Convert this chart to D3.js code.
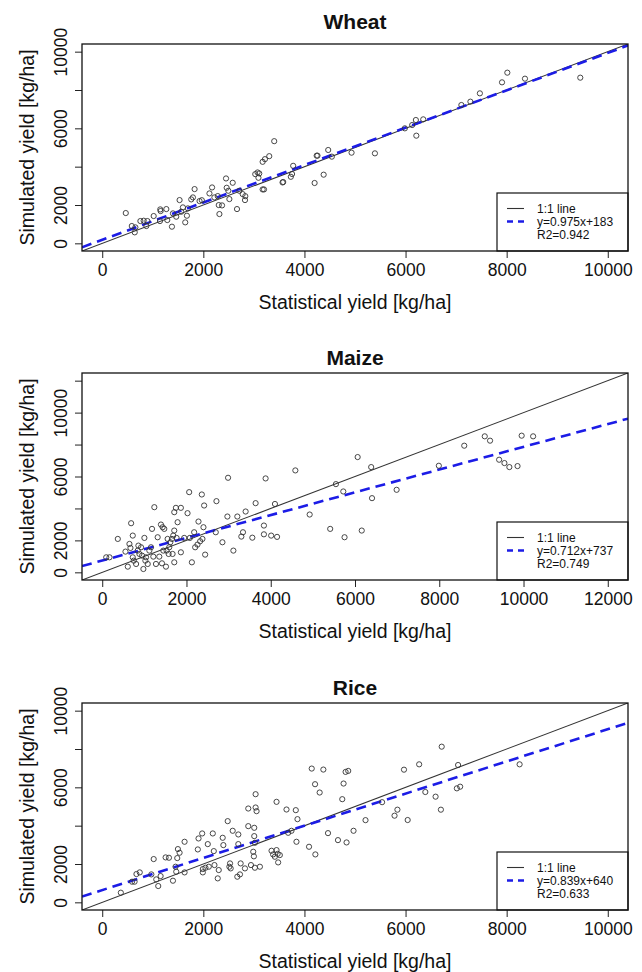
<!DOCTYPE html>
<html>
<head>
<meta charset="utf-8">
<script src="https://cdn.jsdelivr.net/npm/d3@7"></script>
<style>
  body { margin: 0; background: #fff; }
  svg { display: block; }
  text { font-family: "Liberation Sans", Arial, sans-serif; fill: #111; }
</style>
</head>
<body>
<svg id="chart" width="642" height="972"></svg>
<script>
// crops, one panel each
const cropNames = ["Wheat", "Maize", "Rice"];

// [statistical yield, simulated yield] in kg/ha
const wheatPoints = [
  [466,1580],[585,903],[643,573],[656,833],[755,1163],[820,1180],[873,903],[893,1163],
  [1018,1424],[1148,1771],[1155,1684],[1142,1163],[1268,1788],[1287,1215],[1379,868],
  [1399,1562],[1464,1389],[1530,2257],[1563,1649],[1596,1875],[1642,1094],[1675,1441],
  [1695,1823],[1761,2292],[1794,2396],[1827,2830],[1925,2205],[1970,2250],[2121,2604],
  [2173,2916],[2219,2396],[2285,2465],[2305,1996],[2318,1528],[2370,1979],[2449,3385],
  [2462,2899],[2495,2743],[2515,2309],[2581,3160],[2666,1788],[2712,2743],[2778,2569],
  [2824,2257],[2830,2460],[3027,3611],[3073,3698],[3106,3646],[3090,3420],[3173,2812],
  [3200,2812],[3173,4253],[3219,4392],[3304,4548],[3402,5330],[3567,3177],[3580,3200],
  [3731,3472],[3777,4045],[3755,3617],[4201,3148],[4242,4574],[4258,4574],[4380,3582],
  [4470,4870],[4542,4522],[4932,4730],[5394,4695],[5986,6000],[6131,6173],[6204,6434],
  [6350,6469],[6213,5617],[7104,7217],[7283,7391],[7470,7826],[7908,8400],[8013,8904],
  [8362,8591],[9456,8643]
];
const maizePoints = [
  [95,941],[173,941],[370,2092],[552,1297],[607,356],[646,1778],[670,1527],[686,3075],
  [725,2301],[725,941],[749,732],[804,523],[843,1360],[859,1673],[883,1151],[922,1569],
  [946,1046],[977,209],[1001,2155],[1024,732],[1040,941],[1080,523],[1119,1360],[1158,1569],
  [1182,2720],[1213,983],[1237,4079],[1276,523],[1316,2197],[1355,983],[1394,2992],[1418,565],
  [1434,2824],[1450,1360],[1473,2720],[1513,356],[1528,1360],[1552,2092],[1576,1151],
  [1591,1569],[1615,1883],[1655,2092],[1670,1151],[1686,2301],[1710,3766],[1710,2615],
  [1710,628],[1749,4038],[1765,2155],[1789,3138],[1867,4038],[1867,1255],[1946,2155],
  [2025,3703],[2064,5021],[2080,2155],[2128,628],[2182,2510],[2206,1569],[2261,1736],
  [2285,3180],[2324,1946],[2364,4874],[2379,2092],[2403,2824],[2419,4184],[2443,1109],
  [2695,2510],[2711,4456],[2853,1883],[2971,3494],[2987,5920],[3113,1360],[3207,3494],
  [3302,2238],[3341,2510],[3404,3808],[3563,2170],[3641,4331],[3838,2380],[3838,2929],
  [3878,5880],[4010,2300],[4100,4280],[4150,2220],[4584,6381],[4924,3619],[5411,2720],
  [5547,5523],[5722,5063],[5752,2197],[6063,7217],[6160,2615],[6384,6590],[6404,4644],
  [6988,5167],[7990,6673],[8593,7929],[9080,8515],[9206,8243],[9421,7050],[9547,6841],
  [9664,6590],[9858,6652],[9956,8556],[10228,8515]
];
const ricePoints = [
  [368,503],[590,1076],[640,1076],[677,1476],[742,1562],[972,1458],[1018,2257],[1069,1198],
  [1108,851],[1155,1371],[1254,2344],[1320,2326],[1399,1128],[1450,1858],[1464,1597],
  [1497,2778],[1530,2587],[1484,2309],[1629,3160],[1629,1562],[1891,2760],[1905,3333],
  [1977,3594],[1990,1736],[1990,1562],[2042,1805],[2088,3038],[2108,1858],[2187,3594],
  [2207,2673],[2220,1944],[2285,1250],[2305,1684],[2383,3368],[2396,2986],[2482,4236],
  [2515,1858],[2581,3733],[2692,3541],[2692,3038],[2528,2031],[2541,1771],[2672,1337],
  [2725,1458],[2738,2031],[2823,1771],[2889,4895],[2889,3975],[2942,1944],[2987,2639],
  [3000,2400],[3007,3889],[3007,3455],[3020,3107],[3034,5642],[3034,4948],[3053,4757],
  [3020,1805],[3119,1858],[3349,2691],[3380,2500],[3415,2378],[3448,2725],[3470,2530],
  [3513,2465],[3480,2083],[3448,5243],[3645,4843],[3678,3628],[3744,3733],[3829,4809],
  [3862,4340],[3842,3160],[4091,2899],[4144,6979],[4210,6163],[4216,2500],[4301,5729],
  [4374,6927],[4466,3611],[4663,3246],[4748,5382],[4774,6198],[4814,6805],[4866,6857],
  [4833,3125],[4971,3733],[5208,4288],[5536,5225],[5782,4521],[5839,4834],[5969,6921],
  [6042,4295],[6269,7200],[6391,5756],[6594,5513],[6699,4834],[6715,8121],[7015,5947],
  [7039,7165],[7080,6034],[8256,7200]
];

// regression fits shown in the legends
const fitSlopes = [0.975, 0.712, 0.839];
const fitIntercepts = [183, 737, 640];
const fitR2 = ["0.942", "0.749", "0.633"];

// axis limits and ticks
const axisLimits = [[0, 10000], [0, 12000], [0, 10000]];
const xTicks = [
  [0, 2000, 4000, 6000, 8000, 10000],
  [0, 2000, 4000, 6000, 8000, 10000, 12000],
  [0, 2000, 4000, 6000, 8000, 10000]
];
const yTicks = xTicks;
const yTickLabels = [
  [0, 2000, 6000, 10000],
  [0, 2000, 6000, 10000],
  [0, 2000, 6000, 10000]
];

const xTitle = "Statistical yield [kg/ha]";
const yTitle = "Simulated yield [kg/ha]";

// layout
const plotLeft = 82, plotRight = 628, plotH = 207;
const panelTops = [44, 373, 703];
const titleGaps = [23, 16, 16];

const svg = d3.select("#chart");
const allPoints = [wheatPoints, maizePoints, ricePoints];

// R style: limits widened by 4% on each side
const widen = ([lo, hi]) => [lo - 0.04 * (hi - lo), hi + 0.04 * (hi - lo)];

cropNames.forEach((name, i) => {
  const top = panelTops[i];
  const bottom = top + plotH;
  const dom = widen(axisLimits[i]);

  const x = d3.scaleLinear().domain(dom).range([plotLeft, plotRight]);
  const y = d3.scaleLinear().domain(dom).range([bottom, top]);

  const g = svg.append("g");

  // clip for the lines
  const clipId = "clip" + i;
  svg.append("clipPath").attr("id", clipId)
    .append("rect")
    .attr("x", plotLeft).attr("y", top)
    .attr("width", plotRight - plotLeft).attr("height", plotH);

  // title
  g.append("text")
    .attr("x", (plotLeft + plotRight) / 2)
    .attr("y", top - titleGaps[i])
    .attr("dy", "0.36em")
    .attr("text-anchor", "middle")
    .style("font-size", "21px")
    .style("font-weight", "bold")
    .text(name);

  // x axis
  const xAxis = d3.axisBottom(x).tickValues(xTicks[i]).tickSize(7).tickPadding(6)
    .tickFormat(d3.format("d"));
  const gx = g.append("g").attr("transform", `translate(0,${bottom})`).call(xAxis);
  gx.select(".domain").remove();
  gx.selectAll("line").attr("stroke", "#222");
  gx.selectAll("text")
    .style("font-size", "17.5px")
    .style("font-family", "Liberation Sans, Arial, sans-serif")
    .attr("fill", "#111");

  // y axis, labels turned like R does
  const labs = yTickLabels[i];
  const yAxis = d3.axisLeft(y).tickValues(yTicks[i]).tickSize(7)
    .tickFormat(d => labs.includes(d) ? d3.format("d")(d) : "");
  const gy = g.append("g").attr("transform", `translate(${plotLeft},0)`).call(yAxis);
  gy.select(".domain").remove();
  gy.selectAll("line").attr("stroke", "#222");
  gy.selectAll("text")
    .attr("x", 0).attr("dy", "0.36em")
    .attr("transform", "translate(-21,0) rotate(-90)")
    .attr("text-anchor", "middle")
    .style("font-size", "17.5px")
    .style("font-family", "Liberation Sans, Arial, sans-serif")
    .attr("fill", "#111");

  // axis titles
  g.append("text")
    .attr("x", (plotLeft + plotRight) / 2)
    .attr("y", bottom + 51)
    .attr("dy", "0.36em")
    .attr("text-anchor", "middle")
    .style("font-size", "19.5px")
    .text(xTitle);

  g.append("text")
    .attr("transform", `translate(27,${(top + bottom) / 2}) rotate(-90)`)
    .attr("dy", "0.36em")
    .attr("text-anchor", "middle")
    .style("font-size", "19.5px")
    .text(yTitle);

  // 1:1 line and fitted line
  const lines = g.append("g").attr("clip-path", `url(#${clipId})`);
  lines.append("line")
    .attr("x1", x(dom[0])).attr("y1", y(dom[0]))
    .attr("x2", x(dom[1])).attr("y2", y(dom[1]))
    .attr("stroke", "#333").attr("stroke-width", 1.1);

  const fit = v => fitSlopes[i] * v + fitIntercepts[i];
  lines.append("line")
    .attr("x1", x(dom[0])).attr("y1", y(fit(dom[0])))
    .attr("x2", x(dom[1])).attr("y2", y(fit(dom[1])))
    .attr("stroke", "#1c1ce6").attr("stroke-width", 2.6)
    .attr("stroke-dasharray", "10,6");

  // points
  g.append("g").selectAll("circle")
    .data(allPoints[i])
    .enter()
    .append("circle")
    .attr("cx", d => x(d[0]))
    .attr("cy", d => y(d[1]))
    .attr("r", 2.6)
    .attr("fill", "none")
    .attr("stroke", "#333")
    .attr("stroke-width", 0.9);

  // legend, bottom right
  const lw = 131, lh = 58;
  const lg = g.append("g").attr("transform", `translate(${plotRight - lw},${bottom - lh})`);
  lg.append("rect").attr("width", lw).attr("height", lh)
    .attr("fill", "#fff").attr("stroke", "#111").attr("stroke-width", 1.2);
  lg.append("line").attr("x1", 10).attr("x2", 27).attr("y1", 15.5).attr("y2", 15.5)
    .attr("stroke", "#333").attr("stroke-width", 1.1);
  lg.append("line").attr("x1", 10).attr("x2", 27).attr("y1", 28.5).attr("y2", 28.5)
    .attr("stroke", "#1c1ce6").attr("stroke-width", 2.6).attr("stroke-dasharray", "6,5");
  const legendTexts = ["1:1 line", `y=${fitSlopes[i]}x+${fitIntercepts[i]}`, `R2=${fitR2[i]}`];
  lg.selectAll("text.leg").data(legendTexts).enter()
    .append("text")
    .attr("class", "leg")
    .attr("x", 40)
    .attr("y", (d, k) => 15.5 + k * 13)
    .attr("dy", "0.36em")
    .style("font-size", "12px")
    .text(d => d);

  // plot box
  g.append("rect")
    .attr("x", plotLeft).attr("y", top)
    .attr("width", plotRight - plotLeft).attr("height", plotH)
    .attr("fill", "none").attr("stroke", "#111").attr("stroke-width", 1.3);
});
</script>
</body>
</html>
